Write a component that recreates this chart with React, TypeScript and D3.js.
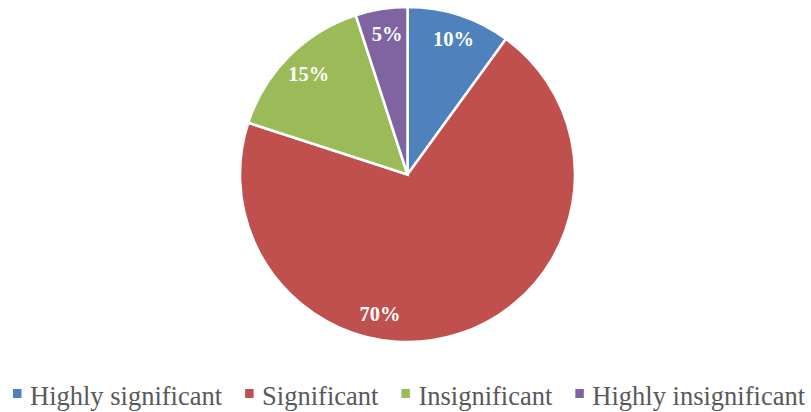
import { useMemo } from 'react';
import * as d3 from 'd3';

const categories = ['Highly significant', 'Significant', 'Insignificant', 'Highly insignificant'];
const values = [10, 70, 15, 5];
const colors = ['#4F81BD', '#C0504D', '#9BBB59', '#8064A2'];

const WIDTH = 811;
const HEIGHT = 412;
const CX = 407.5;
const CY = 174.5;
const RADIUS = 167.5;
const FONT = '"Liberation Serif", "Times New Roman", serif';

// Excel moves the big slice's label away from its mid-angle
const labelAngleShift: Record<string, number> = { Significant: 30 };

const measure = (text: string, font: string) => {
  const ctx = document.createElement('canvas').getContext('2d');
  if (!ctx) return text.length * 10;
  ctx.font = font;
  return ctx.measureText(text).width;
};

export default function App() {
  const data = categories.map((c, i) => ({ name: c, value: values[i], color: colors[i] }));

  const arcs = useMemo(() => {
    const pie = d3.pie<any>().value((d) => d.value).sort(null);
    return pie(data);
  }, []);

  const arcGen = d3.arc<any>().innerRadius(0).outerRadius(RADIUS);
  const total = d3.sum(values);
  const fmt = d3.format('.0%');

  const legendSize = 26.5;
  const legendFont = `${legendSize}px ${FONT}`;
  let x = 13;
  const legendItems = data.map((d) => {
    const item = { ...d, x };
    x += 17 + measure(d.name, legendFont) + 23;
    return item;
  });

  return (
    <svg width={WIDTH} height={HEIGHT} style={{ position: 'absolute', left: 0, top: 0 }}>
      <rect width={WIDTH} height={HEIGHT} fill="#fff" />
      <g transform={`translate(${CX}, ${CY})`}>
        {arcs.map((a, i) => (
          <path key={i} d={arcGen(a) as string} fill={a.data.color} stroke="#fff" strokeWidth={2.5} />
        ))}
        {arcs.map((a, i) => {
          const mid = (a.startAngle + a.endAngle) / 2 + ((labelAngleShift[a.data.name] || 0) * Math.PI) / 180;
          const r = RADIUS * 0.85;
          return (
            <text
              key={i}
              x={Math.sin(mid) * r + 2}
              y={-Math.cos(mid) * r}
              dy="0.35em"
              textAnchor="middle"
              fill="#fff"
              fontFamily={FONT}
              fontWeight="bold"
              fontSize={20.5}
            >
              {fmt(a.data.value / total)}
            </text>
          );
        })}
      </g>
      <g>
        {legendItems.map((d, i) => (
          <g key={i} transform={`translate(${d.x}, 0)`}>
            <rect x={0} y={389} width={8.5} height={9} fill={d.color} />
            <text x={17} y={405} fill="#595959" fontFamily={FONT} fontSize={legendSize}>
              {d.name}
            </text>
          </g>
        ))}
      </g>
    </svg>
  );
}
